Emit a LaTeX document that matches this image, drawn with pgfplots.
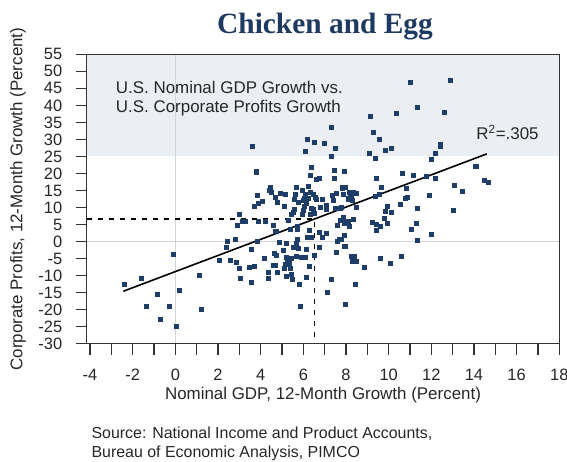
\documentclass[border=0pt]{standalone}
\usepackage{pgfplots}
\pgfplotsset{compat=1.18}
\usepackage{fontspec}
\setmainfont{Liberation Sans}
\newfontfamily\titlefont{Liberation Serif}
\definecolor{navy}{RGB}{31,58,96}
\definecolor{dotc}{RGB}{30,61,105}
\definecolor{band}{RGB}{235,238,242}
\definecolor{zerol}{RGB}{212,212,212}
\pgfplotstableread{
x y
-2.39 -12.5
-1.59 -10.8
-0.84 -15.5
-1.36 -19.0
-0.28 -19.0
-0.70 -22.8
-0.09 -3.7
0.19 -14.3
0.05 -24.9
1.13 -9.9
1.22 -19.9
2.06 -5.5
2.39 -1.6
2.44 0.1
2.81 0.7
2.58 -5.5
2.86 -6.1
3.00 -7.8
3.05 -10.8
3.00 8.1
2.91 4.8
3.14 6.0
3.28 6.0
3.56 -11.9
3.56 -2.2
3.47 -7.5
3.70 -7.2
3.84 0.1
3.89 6.0
4.17 -4.9
4.22 6.0
4.36 -9.0
4.36 -10.8
4.59 4.8
4.69 3.1
4.64 -3.4
4.73 -4.0
4.59 -6.9
4.69 -6.9
4.78 -9.0
4.88 -0.2
5.20 -0.5
5.06 -2.5
3.70 10.4
3.89 11.3
4.08 11.9
3.60 28.1
3.80 20.5
4.45 15.9
4.40 15.1
4.50 14.5
3.84 13.6
4.92 14.2
5.16 13.9
4.69 13.1
4.78 11.6
5.11 10.4
4.73 3.1
5.39 3.6
5.72 3.6
5.30 6.3
5.72 4.5
5.67 16.0
5.95 15.1
6.24 16.3
5.63 13.9
5.58 12.5
6.09 13.9
6.05 12.8
6.00 12.2
6.33 14.5
6.47 13.9
6.56 13.1
6.61 12.5
6.24 12.8
6.14 11.3
5.77 11.6
5.58 9.5
5.53 8.6
5.44 8.1
6.05 10.4
6.00 9.2
5.95 8.1
6.38 9.8
6.47 9.5
6.33 8.1
6.52 8.4
6.80 10.1
7.08 10.7
7.08 9.5
6.89 12.5
7.36 13.6
7.55 14.2
7.41 12.2
7.50 9.8
7.74 9.8
7.83 15.7
7.88 13.9
6.38 21.9
6.33 19.5
6.61 18.4
6.75 18.6
7.45 18.6
7.45 21.0
7.91 20.7
7.31 25.0
6.19 30.1
6.52 29.2
6.99 28.9
7.50 27.5
6.09 26.6
7.31 33.6
6.28 3.4
6.75 2.8
7.08 2.5
6.89 1.3
6.19 1.3
6.38 1.3
5.72 0.7
5.67 -0.5
5.58 -1.6
5.77 -1.9
5.53 -1.6
6.14 -2.2
6.75 -1.6
6.52 -4.0
7.55 -3.1
7.92 -1.4
7.69 0.7
7.60 0.1
5.20 -4.6
5.34 -4.9
5.44 -4.9
5.67 -4.3
5.91 -4.6
6.09 -4.6
5.25 -5.8
5.34 -6.4
5.16 -6.6
6.28 -7.2
5.39 -7.8
5.11 -7.8
5.44 -9.6
5.20 -10.2
5.49 -11.1
6.14 -10.5
7.31 -11.1
5.80 -12.5
7.13 -14.9
5.85 -19.0
7.74 6.3
8.11 6.0
8.34 6.6
8.16 4.5
7.60 4.8
7.92 5.4
9.24 5.7
9.42 5.1
9.61 4.5
9.42 3.4
9.80 6.9
9.94 5.4
7.78 0.7
7.92 1.9
7.97 -1.4
8.25 -4.3
8.39 -4.3
8.30 -5.8
8.49 -5.8
8.86 -7.5
9.61 -4.9
10.08 -6.4
10.60 -4.3
8.44 -12.5
7.97 -18.4
7.88 7.0
7.83 16.0
7.97 16.0
8.14 14.5
8.34 14.4
8.22 13.6
8.11 12.6
8.46 14.1
8.30 12.1
8.49 10.2
7.78 10.2
9.94 10.3
9.85 8.8
10.13 8.6
10.55 11.0
9.66 16.0
9.56 13.9
9.38 13.3
9.42 18.6
9.10 26.0
9.28 32.2
9.56 30.1
9.85 26.9
10.13 27.5
9.38 24.5
9.14 36.9
11.02 46.9
12.89 47.5
11.35 39.5
10.36 37.8
12.61 38.1
12.42 28.7
12.42 27.9
12.19 26.0
12.00 24.2
14.08 22.2
11.16 19.5
11.77 19.2
12.19 18.6
14.49 18.1
14.65 17.5
13.08 16.6
13.45 14.8
10.83 15.7
11.91 13.6
10.88 13.1
10.78 12.8
10.64 20.1
11.35 9.8
13.03 9.2
11.30 5.4
11.06 3.6
12.00 2.2
11.35 0.4
}\scatterdata
\begin{document}
\begin{tikzpicture}
\useasboundingbox (0,0) rectangle (567bp,462bp);
\node[anchor=base, font=\titlefont\bfseries\fontsize{29.5}{32}\selectfont, text=navy] at (325bp,428.7bp) {Chicken and Egg};
\begin{axis}[
  at={(86.7bp,118.3bp)}, anchor=south west,
  scale only axis, width=472.6bp, height=289.4bp,
  xmin=-4.155, xmax=18, ymin=-30, ymax=55,
  axis line style={line width=1.2pt, draw=black!80},
  xtick={-4,-2,...,18}, minor xtick={-3,-1,...,17},
  ytick={-30,-25,...,55},
  tick align=outside, xtick pos=bottom, ytick pos=left,
  major tick length=11bp, minor tick length=11bp,
  every tick/.style={line width=1.2pt, black!80},
  /pgf/number format/assume math mode=true,
  ticklabel style={font=\fontsize{16.5}{18}\selectfont, text=black!85},
  xticklabel style={yshift=-11bp},
  yticklabel style={xshift=-10bp},
  label style={font=\fontsize{17}{19}\selectfont, text=black!85},
  xlabel={Nominal GDP, 12-Month Growth (Percent)},
  ylabel={Corporate Profits, 12-Month Growth (Percent)},
  xlabel style={at={(axis description cs:0.5,-0.177)}, anchor=center},
  ylabel style={at={(axis description cs:-0.1454,0.5)}, anchor=center},
  axis on top,
]
\addplot[draw=none, fill=band, forget plot] coordinates {(-4.155,25) (18,25) (18,55) (-4.155,55)} -- cycle;
\addplot[zerol, line width=1.5bp, forget plot] coordinates {(0,-30) (0,55)};
\addplot[zerol, line width=1.5bp, forget plot] coordinates {(-4.155,0) (18,0)};
\addplot[black, line width=1.3bp, dash pattern=on 5bp off 6bp, forget plot] coordinates {(-4.155,6.6) (6.52,6.6) (6.52,-30)};
\addplot[only marks, mark=square*, mark size=2.1bp, dotc, forget plot] table {\scatterdata};
\addplot[black, line width=1.6bp, forget plot] coordinates {(-2.44,-14.6) (14.6,25.75)};
\node[anchor=west, font=\fontsize{17}{19}\selectfont, text=black!85] at (axis cs:-2.95,45.2) {U.S. Nominal GDP Growth vs.};
\node[anchor=west, font=\fontsize{17}{19}\selectfont, text=black!85] at (axis cs:-2.95,39.3) {U.S. Corporate Profits Growth};
\node[anchor=west, font=\fontsize{17}{19}\selectfont, text=black!85] at (axis cs:13.95,32) {R\textsuperscript{2}=.305};
\end{axis}
\node[anchor=base west, font=\fontsize{16}{18}\selectfont, text=black!85] at (88bp,24bp) {Source: National Income and Product Accounts,};
\node[anchor=base west, font=\fontsize{16}{18}\selectfont, text=black!85] at (88bp,5bp) {Bureau of Economic Analysis, PIMCO};
\end{tikzpicture}
\end{document}
